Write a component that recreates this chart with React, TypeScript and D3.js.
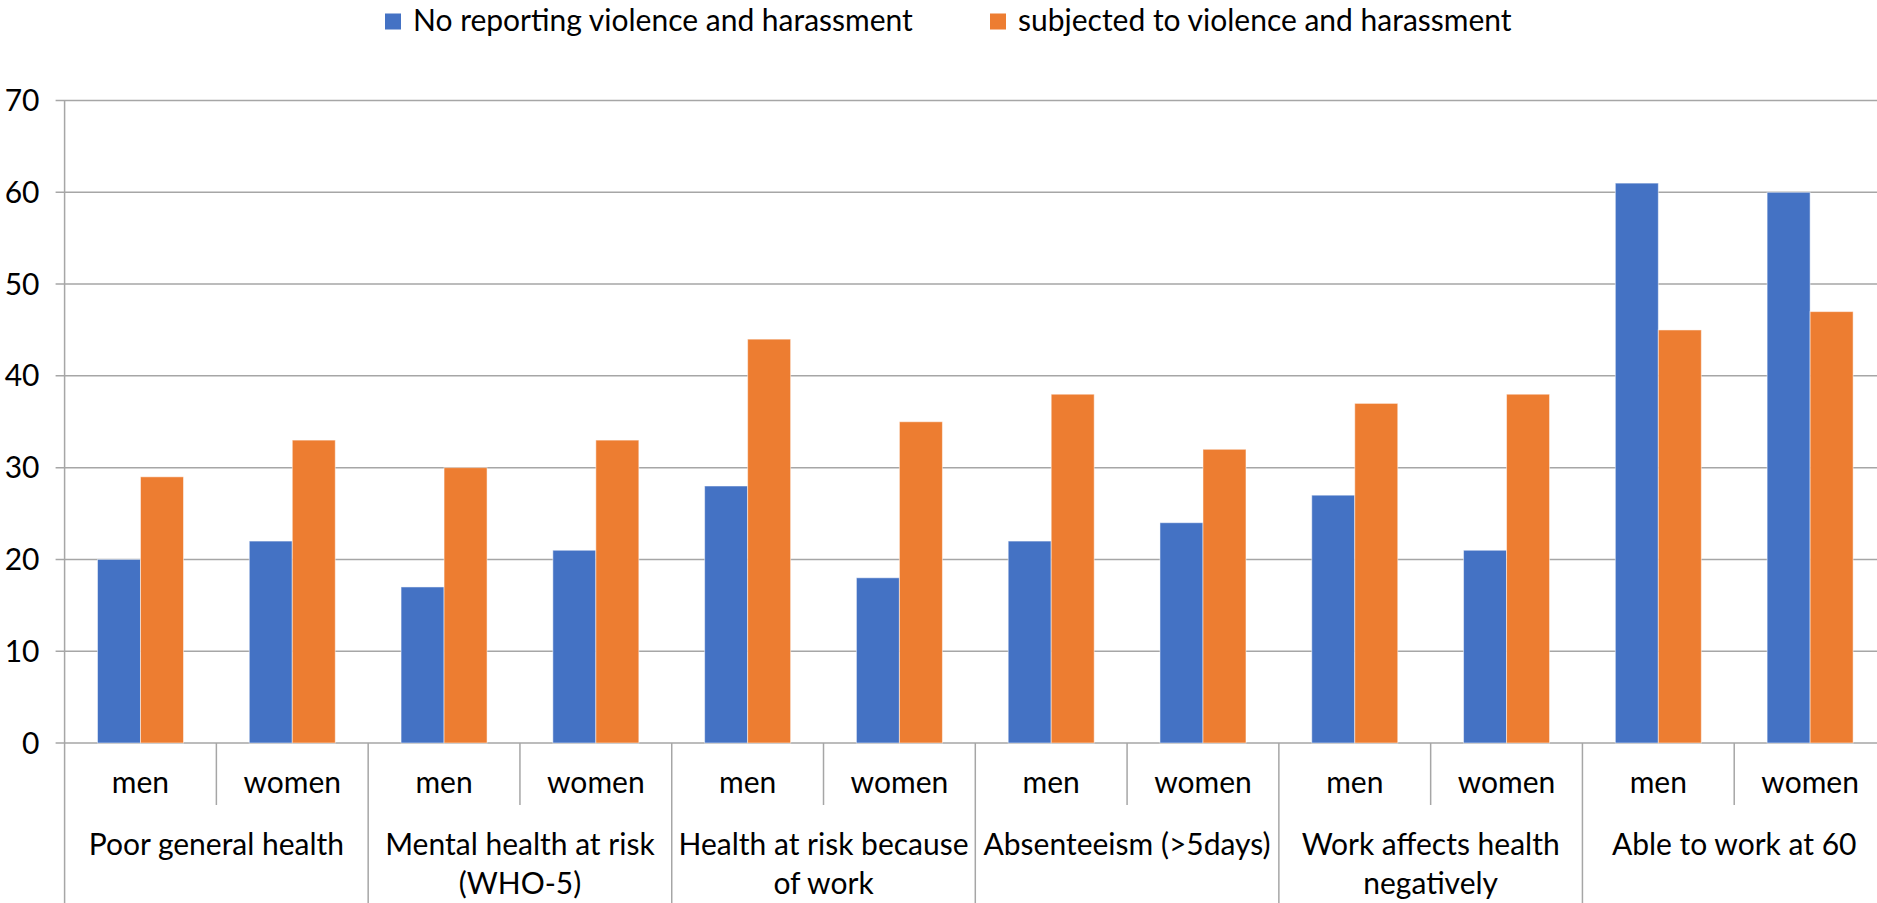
import React from "react";
import * as d3 from "d3";

const groupLabels: string[][] = [
  ["Poor general health"],
  ["Mental health at risk", "(WHO-5)"],
  ["Health at risk because", "of work"],
  ["Absenteeism (>5days)"],
  ["Work affects health", "negatively"],
  ["Able to work at 60"],
];
const genders = ["men", "women"];
const seriesNames = ["No reporting violence and harassment", "subjected to violence and harassment"];
const seriesColors = ["#4472C4", "#ED7D31"];
const noReporting = [20, 22, 17, 21, 28, 18, 22, 24, 27, 21, 61, 60];
const subjected = [29, 33, 30, 33, 44, 35, 38, 32, 37, 38, 45, 47];
const yTicks = [0, 10, 20, 30, 40, 50, 60, 70];

const W = 1877;
const H = 903;
const FONT = "Lato, 'Open Sans', sans-serif";
const FS = 30;

export default function App() {
  const slots = d3.range(noReporting.length);
  const x = d3.scaleBand<number>().domain(slots).range([64.6, 1886]).padding(0);
  const inner = d3
    .scaleBand<number>()
    .domain([0, 1])
    .range([0, x.bandwidth()])
    .paddingInner(0)
    .paddingOuter(0.765);
  const y = d3.scaleLinear().domain([0, 70]).range([743, 100.5]);
  const values = [noReporting, subjected];
  const x0 = x.range()[0];
  const xEnd = x.range()[1];
  const grid = "#a6a6a6";

  return (
    <div style={{ position: "fixed", left: 0, top: 0 }}>
      <svg width={W} height={H} style={{ display: "block", background: "#fff" }} fontFamily={FONT}>
        {/* gridlines */}
        {yTicks.map((t) => (
          <line key={"g" + t} x1={x0 - 9} x2={xEnd} y1={y(t)} y2={y(t)} stroke={grid} strokeWidth={1.5} />
        ))}
        {/* y tick labels */}
        {yTicks.map((t) => (
          <text key={"t" + t} x={39.5} y={y(t)} dy="0.35em" textAnchor="end" fontSize={FS} fill="#000">
            {t}
          </text>
        ))}
        {/* bars */}
        {values.map((vals, s) =>
          vals.map((v, i) => (
            <rect
              key={s + "-" + i}
              x={(x(i) as number) + (inner(s) as number)}
              y={y(v)}
              width={inner.bandwidth()}
              height={y(0) - y(v)}
              fill={seriesColors[s]}
              stroke="#ffffff"
              strokeOpacity={0.5}
              strokeWidth={1}
            />
          ))
        )}
        {/* y axis line */}
        <line x1={x0} x2={x0} y1={y(70)} y2={H} stroke={grid} strokeWidth={1.5} />
        {/* x axis separators */}
        {d3.range(noReporting.length + 1).map((k) => {
          const xx = k < noReporting.length ? (x(k) as number) : xEnd;
          if (k === 0) return null;
          const isGroup = k % 2 === 0;
          return (
            <line
              key={"s" + k}
              x1={xx}
              x2={xx}
              y1={y(0)}
              y2={isGroup ? H : 805}
              stroke={grid}
              strokeWidth={1.5}
            />
          );
        })}
        {/* gender labels */}
        {slots.map((i) => (
          <text
            key={"l" + i}
            x={(x(i) as number) + x.bandwidth() / 2}
            y={793}
            textAnchor="middle"
            fontSize={FS}
            fill="#000"
          >
            {genders[i % 2]}
          </text>
        ))}
        {/* group labels */}
        {groupLabels.map((lines, g) => {
          const cx = (x(g * 2) as number) + x.bandwidth();
          return (
            <text key={"c" + g} x={cx} y={855} textAnchor="middle" fontSize={FS} fill="#000">
              {lines.map((ln, j) => (
                <tspan key={j} x={cx} dy={j === 0 ? 0 : 39}>
                  {ln}
                </tspan>
              ))}
            </text>
          );
        })}
        {/* legend */}
        {seriesNames.map((name, s) => {
          const lx = [385, 990][s];
          return (
            <g key={"lg" + s}>
              <rect x={lx} y={13.5} width={16} height={16} fill={seriesColors[s]} />
              <text x={lx + 28} y={31} fontSize={FS} fill="#000">
                {name}
              </text>
            </g>
          );
        })}
      </svg>
    </div>
  );
}
